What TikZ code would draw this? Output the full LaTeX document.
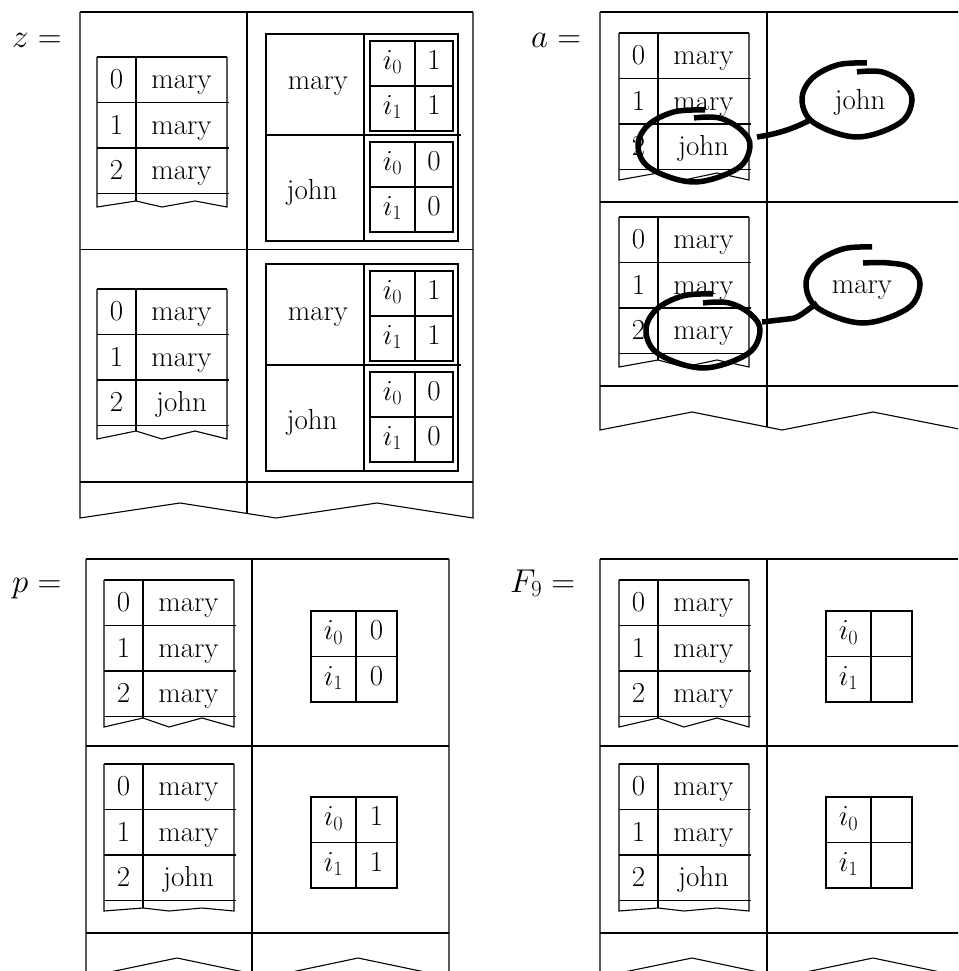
\RequirePackage{fix-cm}
\documentclass[tikz,border=0pt]{standalone}
\usepackage{fontspec}
\tikzset{
  tline/.style={line width=1.1pt, line join=miter},
  cell/.style={inner sep=0pt, text height=18pt, text depth=0pt, font=\fontsize{29}{35}\selectfont},
  icell/.style={inner sep=0pt, text height=14pt, text depth=2pt, font=\fontsize{29}{35}\selectfont},
  lbl/.style={inner sep=0pt, anchor=base west, font=\fontsize{33}{40}\selectfont},
  loopline/.style={line width=5.5pt, line cap=butt, line join=round},
}
% name, x, y, bottom, peak, v0, v1, v2
\newcommand\datatab[8]{%
\begin{scope}[shift={(#2,#3)}]
  \draw[tline] (0,0) -- (130,0);
  \draw[tline] (0,0) -- (0,#4) -- (39,#5) -- (65,#4) -- (98,#5) -- (130,#4) -- (130,0);
  \draw[tline] (39,0) -- (39,#5);
  \foreach \r in {45.5,91,136.5} \draw[tline] (0,\r) -- (131.5,\r);
  \node[cell] (#1-k0) at (19.5,22.75) {0};
  \node[cell] (#1-v0) at (84.5,22.75) {#6};
  \node[cell] (#1-k1) at (19.5,68.25) {1};
  \node[cell] (#1-v1) at (84.5,68.25) {#7};
  \node[cell] (#1-k2) at (19.5,113.75) {2};
  \node[cell] (#1-v2) at (84.5,113.75) {#8};
\end{scope}}
% name, x, y, w1, w2, h, v0, v1
\newcommand\ibox[8]{%
\begin{scope}[shift={(#2,#3)}]
  \draw[tline] (0,0) rectangle ({#4+#5},{2*#6});
  \draw[tline] (#4,0) -- (#4,{2*#6});
  \draw[tline] (0,#6) -- ({#4+#5},#6);
  \node[icell] (#1-a) at ({#4/2},{#6/2}) {$i_0$};
  \node[icell] (#1-b) at ({#4+#5/2},{#6/2}) {#7};
  \node[icell] (#1-c) at ({#4/2},{1.5*#6}) {$i_1$};
  \node[icell] (#1-d) at ({#4+#5/2},{1.5*#6}) {#8};
\end{scope}}
% name, x, y
\newcommand\zstruct[3]{%
\begin{scope}[shift={(#2,#3)}]
  \draw[tline] (0,0) rectangle (192,207);
  \draw[tline] (98,0) -- (98,207);
  \draw[tline] (0,101) -- (195,101);
  \node[cell] (#1-m) at (52,47) {mary};
  \node[cell] (#1-j) at (46,156) {john};
  \ibox{#1-u}{104}{7}{45}{38}{45}{1}{1}
  \ibox{#1-l}{104}{108}{45}{38}{45}{0}{0}
\end{scope}}
% cx, cy, rx, ry, start u, end v
\newcommand\handloop[6]{%
  \draw[loopline] plot[smooth, tension=0.6] coordinates {
    ({#1+#5*#3},{#2-#4})
    ({#1-0.35*#3},{#2-0.95*#4})
    ({#1-0.82*#3},{#2-0.58*#4})
    ({#1-#3},{#2})
    ({#1-0.78*#3},{#2+0.62*#4})
    ({#1},{#2+#4})
    ({#1+0.78*#3},{#2+0.62*#4})
    ({#1+#3},{#2})
    ({#1+0.84*#3},{#2-0.45*#4})
    ({#1+0.45*#3},{#2-#6*#4})
    ({#1},{#2-#6*#4})
  };}
\begin{document}
\begin{tikzpicture}[x=1pt,y=-1pt]
\useasboundingbox (0,0) rectangle (958,971);
\clip (0,0) rectangle (958,971);

% ---------- labels
\node[lbl] (zl) at (12,48) {$z =$};
\node[lbl] (al) at (531,48) {$a =$};
\node[lbl] (pl) at (12,592) {$p =$};
\node[lbl] (fl) at (510,592) {$F_9 =$};

% ---------- panel z
\draw[tline] (80,12) -- (473,12);
\draw[tline] (80,12) -- (80,518) -- (180,503) -- (276,518) -- (377,503) -- (473,518) -- (473,12);
\draw[tline] (247,12) -- (247,513.5);
\draw[tline] (80,249.5) -- (473,249.5);
\draw[tline] (80,482) -- (473,482);
\datatab{z1}{97}{57}{150}{144}{mary}{mary}{mary}
\datatab{z2}{97}{289}{150}{142}{mary}{mary}{john}
\zstruct{zs1}{266}{34}
\zstruct{zs2}{266}{264}

% ---------- panel a
\draw[tline] (600,12) -- (970,12);
\draw[tline] (600,12) -- (600,430) -- (692,412) -- (782,430) -- (873,412) -- (964,430);
\draw[tline] (767,12) -- (767,427);
\draw[tline] (600,202) -- (970,202);
\draw[tline] (600,386) -- (970,386);
\datatab{a1}{619}{33}{147}{140}{mary}{mary}{john}
\datatab{a2}{619}{217}{150}{143}{mary}{mary}{mary}
\node[cell] (bj) at (860,101) {john};
\node[cell] (bm) at (862,284) {mary};
\handloop{694}{146}{56}{36}{0.2}{0.78}
\handloop{857}{100}{55}{37}{0.18}{0.76}
\handloop{703}{331}{57}{37}{0.18}{0.76}
\handloop{863}{285}{57}{38}{0.16}{0.58}
\coordinate (sjR) at (757,137);
\coordinate (bjL) at (810,120);
\coordinate (smR) at (762,322);
\coordinate (bmL) at (817,303);
\draw[loopline] (sjR) .. controls (778,134) and (795,128) .. (bjL);
\draw[loopline] (smR) -- (788,319) .. controls (797,318) .. (bmL);

% ---------- panel p
\draw[tline] (86,559) -- (449,559);
\draw[tline] (86,559) -- (86,977) -- (177,958) -- (268,977) -- (358,958) -- (449,977) -- (449,559);
\draw[tline] (252,559) -- (252,975);
\draw[tline] (86,746) -- (449,746);
\draw[tline] (86,933) -- (449,933);
\datatab{p1}{104}{580}{147}{138}{mary}{mary}{mary}
\datatab{p2}{104}{764}{147}{144}{mary}{mary}{john}
\ibox{pi1}{311}{611}{45}{41}{45.5}{0}{0}
\ibox{pi2}{311}{797}{45}{41}{45.5}{1}{1}

% ---------- panel F9
\draw[tline] (600,559) -- (970,559);
\draw[tline] (600,559) -- (600,977) -- (692,958) -- (782,977) -- (873,958) -- (964,977);
\draw[tline] (767,559) -- (767,975);
\draw[tline] (600,746) -- (970,746);
\draw[tline] (600,933) -- (970,933);
\datatab{f1}{619}{580}{147}{138}{mary}{mary}{mary}
\datatab{f2}{619}{764}{147}{144}{mary}{mary}{john}
\ibox{fi1}{826}{611}{45}{41}{45.5}{}{}
\ibox{fi2}{826}{797}{45}{41}{45.5}{}{}
\end{tikzpicture}
\end{document}
